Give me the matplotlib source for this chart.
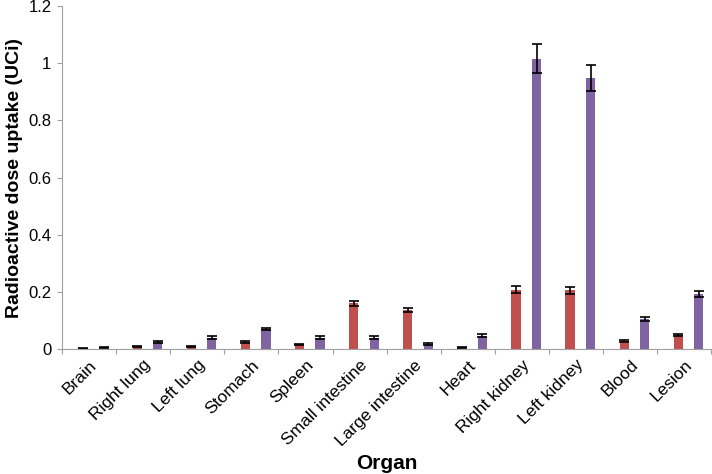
import matplotlib

matplotlib.use("Agg")
import matplotlib.pyplot as plt
import numpy as np
from matplotlib.transforms import ScaledTranslation

organs = ["Brain", "Right lung", "Left lung", "Stomach", "Spleen", "Small intestine",
          "Large intestine", "Heart", "Right kidney", "Left kidney", "Blood", "Lesion"]
red_vals = [0.002, 0.008, 0.010, 0.025, 0.015, 0.160, 0.137, 0.004, 0.208, 0.205, 0.027, 0.048]
red_err = [0.002, 0.002, 0.002, 0.003, 0.002, 0.008, 0.007, 0.002, 0.012, 0.011, 0.003, 0.004]
purple_vals = [0.006, 0.025, 0.040, 0.070, 0.040, 0.040, 0.018, 0.047, 1.016, 0.948, 0.105, 0.193]
purple_err = [0.002, 0.003, 0.004, 0.005, 0.004, 0.004, 0.003, 0.004, 0.050, 0.047, 0.007, 0.010]

plt.rcParams["font.family"] = ["Liberation Sans", "DejaVu Sans"]

fig = plt.figure(figsize=(7.12, 4.74), dpi=100)
ax = fig.add_axes([0.087, 0.2637, 0.912, 0.7236])

x = np.arange(len(organs))
w = 0.17
err_kw = dict(ecolor="black", elinewidth=1.2, capsize=3.5, capthick=1.2)
ax.bar(x + 0.39, red_vals, w, yerr=red_err, color="#C0504D", error_kw=err_kw)
ax.bar(x + 0.77, purple_vals, w, yerr=purple_err, color="#8064A2", error_kw=err_kw)

ax.set_xlim(0, len(organs))
ax.set_ylim(0, 1.2)
ax.set_yticks([0, 0.2, 0.4, 0.6, 0.8, 1.0, 1.2])
ax.set_yticklabels(["0", "0.2", "0.4", "0.6", "0.8", "1", "1.2"])
ax.set_xticks(np.arange(len(organs) + 1))
ax.set_xticklabels([])
ax.set_xticks(x + 0.5, minor=True)
ax.set_xticklabels(organs, minor=True, rotation=45, ha="right", va="top",
                   rotation_mode="anchor")
# nudge labels a bit right, as in the original
shift = ScaledTranslation(6 / 72, 0, fig.dpi_scale_trans)
for lab in ax.get_xticklabels(minor=True):
    lab.set_transform(lab.get_transform() + shift)
ax.tick_params(axis="x", which="minor", length=0, pad=6, labelsize=12.5)
ax.tick_params(axis="x", which="major", length=3.6, color="#A0A0A0")
ax.tick_params(axis="y", length=3.6, pad=4, color="#A0A0A0", labelsize=12)

for side in ("top", "right"):
    ax.spines[side].set_visible(False)
for side in ("left", "bottom"):
    ax.spines[side].set_color("#A0A0A0")

ax.set_xlabel("Organ", fontsize=15, fontweight="bold")
ax.set_ylabel("Radioactive dose uptake (UCi)", fontsize=14, fontweight="bold", labelpad=4)
ax.xaxis.set_label_coords(0.5, -0.305)

fig.savefig("out.png", dpi=100)
